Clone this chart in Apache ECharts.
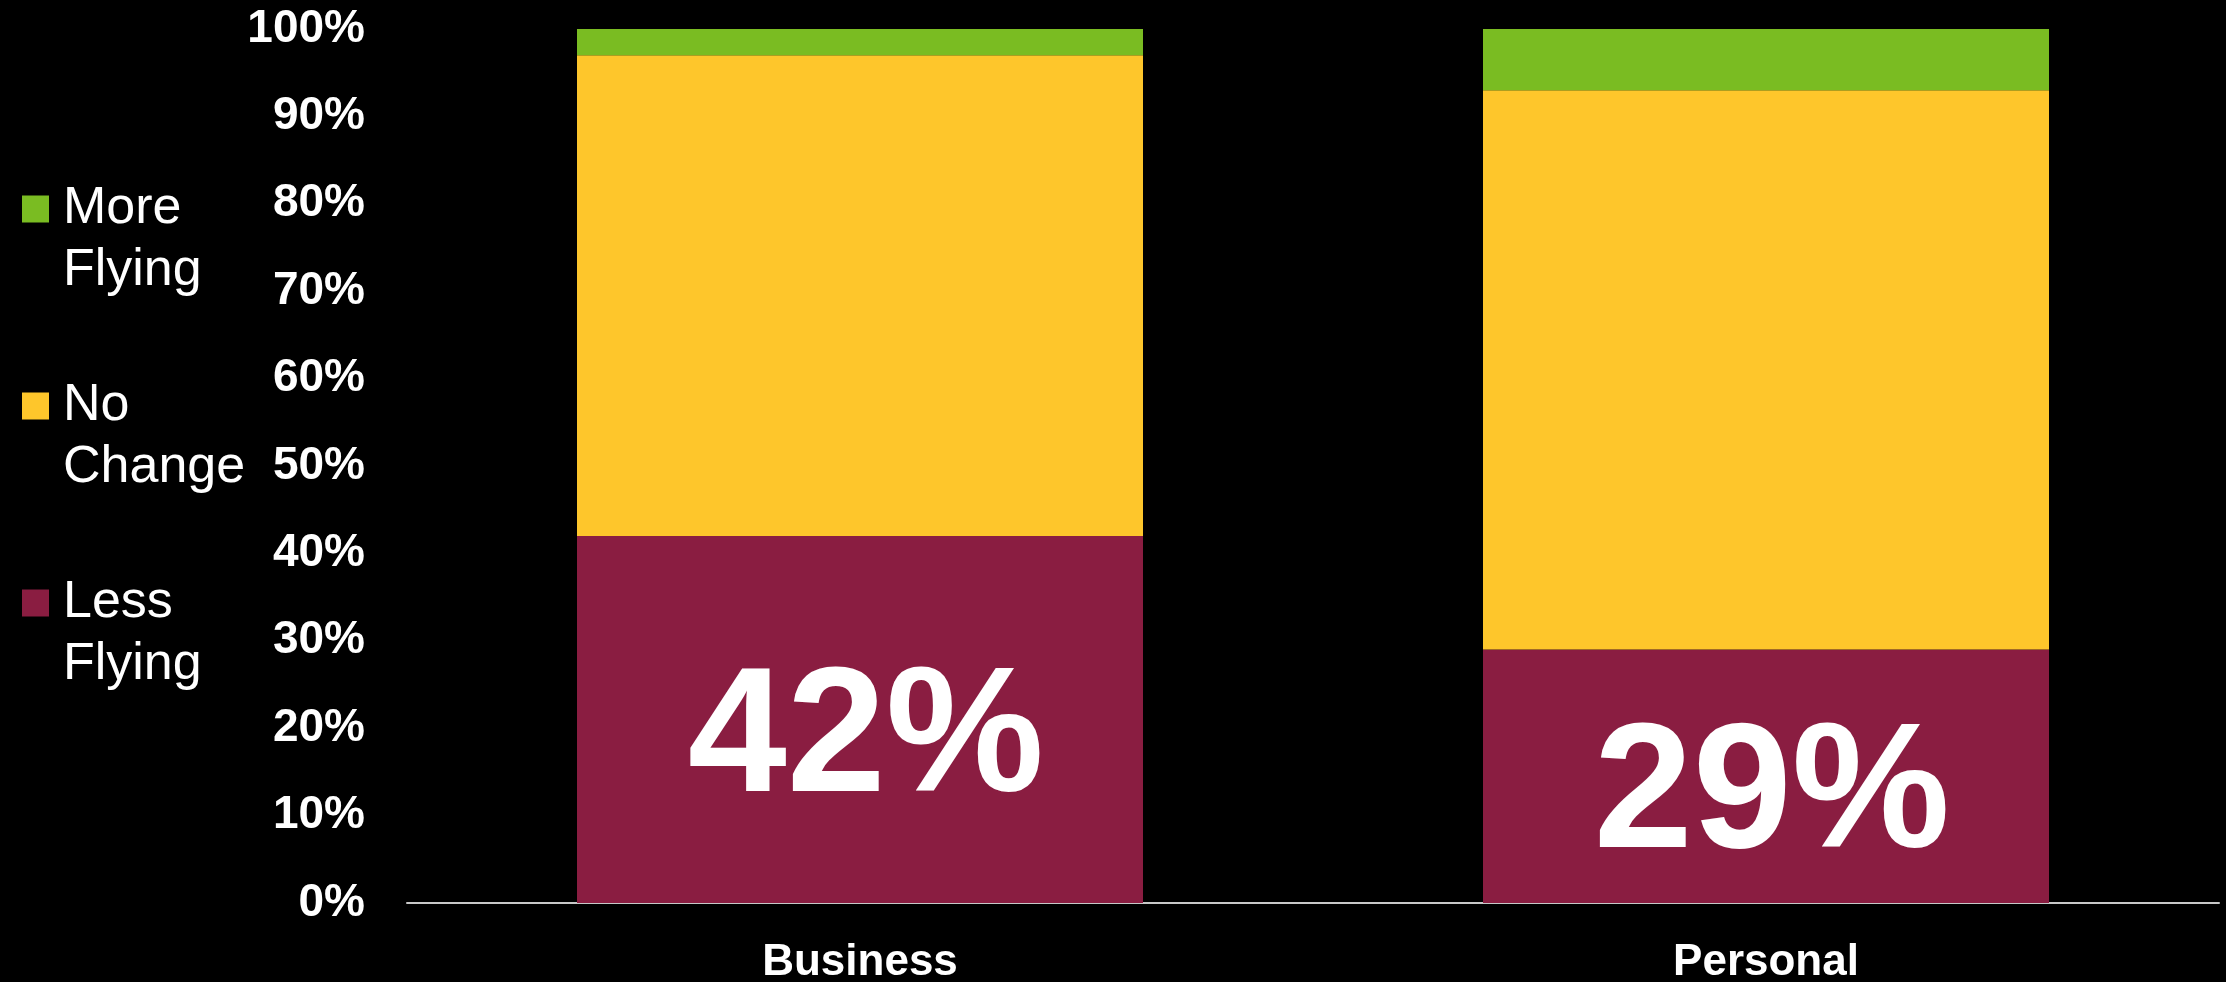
<!DOCTYPE html>
<html>
<head>
<meta charset="utf-8">
<title>Flying plans: Business vs Personal</title>
<script src="https://cdn.jsdelivr.net/npm/echarts@6/dist/echarts.min.js"></script>
<style>
  html, body { margin: 0; padding: 0; background: #000; }
  #chart { width: 2226px; height: 982px; }
</style>
</head>
<body>
<div id="chart"></div>
<script>
// Share of respondents by expected change in flying (percent)
const categories = ['Business', 'Personal'];
const lessFlying = [42, 29];
const noChange = [55, 64];
const moreFlying = [3, 7];
const yTicks = { min: 0, max: 100, interval: 10 };

const FONT = "'Liberation Sans', Arial, sans-serif";
const colors = { less: '#8A1D41', none: '#FEC62B', more: '#7ABC22' };

const chart = echarts.init(document.getElementById('chart'), null, { renderer: 'canvas' });

const barCommon = { type: 'bar', stack: 'total', barWidth: 566, emphasis: { disabled: true } };

chart.setOption({
  backgroundColor: '#000',
  animation: false,
  grid: {
    left: 407, right: 7, top: 29, bottom: 79,
    containLabel: false,
    outerBoundsMode: 'none'
  },
  legend: {
    orient: 'vertical',
    left: 22,
    top: 116,
    padding: 0,
    itemGap: 11,
    itemWidth: 27,
    itemHeight: 27,
    icon: 'rect',
    selectedMode: false,
    data: ['More Flying', 'No Change', 'Less Flying'],
    // leading blank line keeps the swatch level with the first word
    formatter: name => '\n' + name.replace(' ', '\n'),
    textStyle: {
      color: '#fff',
      fontFamily: FONT,
      fontSize: 52,
      lineHeight: 62,
      padding: [0, 0, 0, 9]
    }
  },
  xAxis: {
    type: 'category',
    data: categories,
    axisLine: { show: true, lineStyle: { color: '#c8c8c8', width: 2 } },
    axisTick: { show: false },
    axisLabel: {
      color: '#fff',
      fontFamily: FONT,
      fontWeight: 'bold',
      fontSize: 44,
      margin: 38
    }
  },
  yAxis: {
    type: 'value',
    min: yTicks.min,
    max: yTicks.max,
    interval: yTicks.interval,
    axisLine: { show: false },
    axisTick: { show: false },
    splitLine: { show: false },
    axisLabel: {
      color: '#fff',
      fontFamily: FONT,
      fontWeight: 'bold',
      fontSize: 46,
      margin: 42,
      padding: [6, 0, 0, 0],
      formatter: '{value}%'
    }
  },
  series: [
    Object.assign({}, barCommon, {
      name: 'Less Flying',
      data: lessFlying,
      itemStyle: { color: colors.less },
      label: {
        show: true,
        position: 'inside',
        offset: [6, 22],
        formatter: '{c}%',
        color: '#fff',
        fontFamily: FONT,
        fontWeight: 'bold',
        fontSize: 178
      }
    }),
    Object.assign({}, barCommon, {
      name: 'No Change',
      data: noChange,
      itemStyle: { color: colors.none }
    }),
    Object.assign({}, barCommon, {
      name: 'More Flying',
      data: moreFlying,
      itemStyle: { color: colors.more }
    })
  ]
});
</script>
</body>
</html>
